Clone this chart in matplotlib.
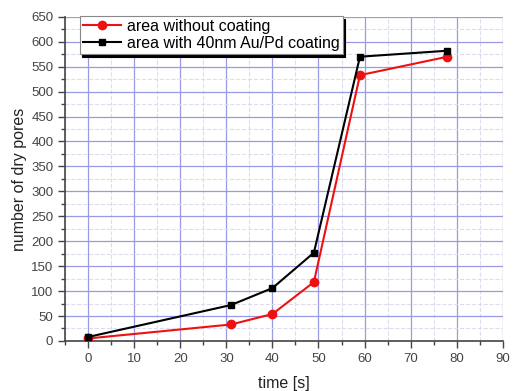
import matplotlib
matplotlib.use("Agg")
import matplotlib.pyplot as plt
from matplotlib.ticker import MultipleLocator

time_s = [0, 31, 40, 49, 59, 78]
pores_uncoated = [5, 33, 54, 118, 533, 570]
pores_coated = [8, 72, 106, 177, 570, 582]
label_uncoated = "area without coating"
label_coated = "area with 40nm Au/Pd coating"

plt.rcParams['font.family'] = ['Liberation Sans', 'DejaVu Sans']

fig = plt.figure(figsize=(5.13, 3.91), dpi=100)
ax = fig.add_axes([0.127, 0.128, 0.853, 0.829])

ax.plot(time_s, pores_uncoated, color='#ee1111', lw=1.5, marker='o', ms=6,
        label=label_uncoated, zorder=3)
ax.plot(time_s, pores_coated, color='black', lw=1.5, marker='s', ms=5,
        label=label_coated, zorder=4)

ax.set_xlim(-5, 90)
ax.set_ylim(0, 650)
ax.xaxis.set_major_locator(MultipleLocator(10))
ax.xaxis.set_minor_locator(MultipleLocator(5))
ax.yaxis.set_major_locator(MultipleLocator(50))
ax.yaxis.set_minor_locator(MultipleLocator(25))

ax.grid(which='major', color='#9a9ae4', lw=0.9)
ax.grid(which='minor', color='#dcdcee', lw=0.8, ls='--')
ax.set_axisbelow(True)

for s in ['top', 'right']:
    ax.spines[s].set_visible(False)
for s in ['left', 'bottom']:
    ax.spines[s].set_color('#444444')
    ax.spines[s].set_linewidth(1.2)

ax.tick_params(which='major', direction='out', length=5, width=1, colors='#444444',
               labelsize=9.5, labelcolor='#444444')
ax.tick_params(which='minor', direction='out', length=3, width=1, colors='#444444')

ax.set_xlabel('time [s]', fontsize=11.5, color='#222222', labelpad=8)
ax.set_ylabel('number of dry pores', fontsize=11.5, color='#222222', labelpad=3)

leg = ax.legend(loc='upper left', bbox_to_anchor=(0.033, 1.003), fontsize=11.5,
                frameon=True, fancybox=False, edgecolor='#888888', framealpha=1,
                borderpad=0.2, labelspacing=0.12, handlelength=2.4, handletextpad=0.35,
                borderaxespad=0.0, shadow={'color': 'black', 'alpha': 1})
leg.get_frame().set_linewidth(0.8)

fig.savefig('out.png', dpi=100)
